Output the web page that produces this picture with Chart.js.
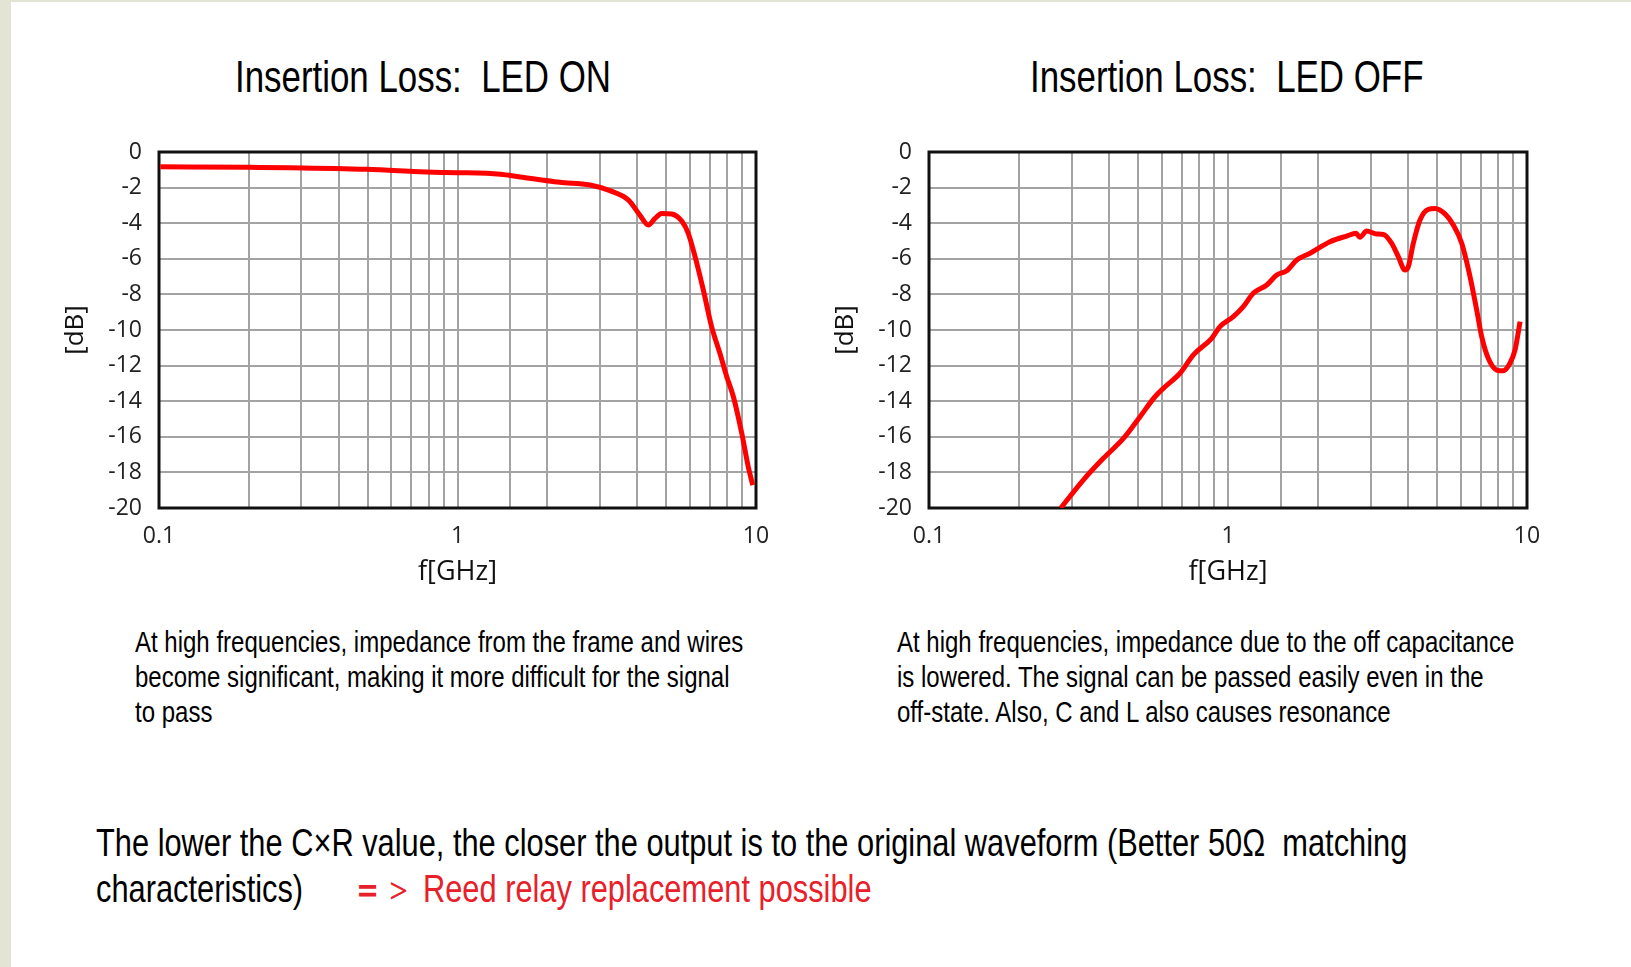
<!DOCTYPE html>
<html>
<head>
<meta charset="utf-8">
<title>Insertion Loss</title>
<script src="https://cdn.jsdelivr.net/npm/chart.js@4.4.1/dist/chart.umd.min.js"></script>
<style>
  body {
    margin: 0;
    width: 1631px;
    height: 967px;
    position: relative;
    overflow: hidden;
    background: #fff;
    font-family: "Liberation Sans", Arial, sans-serif;
    color: #000;
  }
  .strip-left { position: absolute; left: 0; top: 0; width: 11px; height: 967px; background: #e4e4d5; }
  .strip-top { position: absolute; left: 0; top: 0; width: 1631px; height: 2px; background: #e4e4d5; }
  .box { position: absolute; }
  .narrow {
    position: absolute;
    white-space: nowrap;
    transform: scaleX(0.8);
    transform-origin: 0 0;
  }
  .title { font-size: 45px; line-height: 45px; transform: scaleX(0.775); }
  .desc { font-size: 30px; line-height: 35px; }
  .note { font-size: 38.5px; line-height: 46px; }
  .red { color: #e8202a; }
  .eq { font-weight: bold; }
</style>
</head>
<body>
<div class="strip-left"></div>
<div class="strip-top"></div>

<div class="narrow title" style="left:235px; top:54px;">Insertion Loss:&nbsp; LED ON</div>
<div class="narrow title" style="left:1030px; top:54px;">Insertion Loss:&nbsp; LED OFF</div>

<div class="box" style="left:20px; top:130px; width:770px; height:459px;"><canvas id="ledOn"></canvas></div>
<div class="box" style="left:790px; top:130px; width:790px; height:459px;"><canvas id="ledOff"></canvas></div>

<div class="narrow desc" style="left:135px; top:624px;">At high frequencies, impedance from the frame and wires<br>become significant, making it more difficult for the signal<br>to pass</div>
<div class="narrow desc" style="left:897px; top:624px;">At high frequencies, impedance due to the off capacitance<br>is lowered. The signal can be passed easily even in the<br>off-state. Also, C and L also causes resonance</div>

<div class="narrow note" style="left:96px; top:820px;">The lower the C×R value, the closer the output is to the original waveform (Better 50Ω&nbsp; matching</div>
<div class="narrow note" style="left:96px; top:866px;">characteristics)</div>
<div class="narrow note red" style="left:352px; top:866px;"><span class="eq">＝</span>＞ Reed relay replacement possible</div>

<script>
// LED ON curve (GHz, dB)
const freqOn = [0.101, 0.2, 0.275, 0.496, 0.83, 1.0, 1.39, 1.62, 2.2, 2.78, 3.24, 3.74, 4.08, 4.36, 4.59, 4.83, 5.22, 5.64, 5.93, 6.25, 6.66, 7.10, 7.57, 7.98, 8.40, 8.96, 9.42, 9.75];
const lossOn = [-0.83, -0.86, -0.88, -0.97, -1.14, -1.16, -1.25, -1.40, -1.70, -1.85, -2.17, -2.70, -3.54, -4.10, -3.73, -3.45, -3.48, -3.88, -4.57, -5.88, -7.75, -9.81, -11.31, -12.62, -13.75, -15.80, -17.68, -18.71];

// LED OFF curve
const freqOff = [0.276, 0.328, 0.383, 0.447, 0.508, 0.570, 0.616, 0.691, 0.766, 0.882, 0.940, 1.042, 1.125, 1.215, 1.348, 1.455, 1.571, 1.698, 1.881, 2.193, 2.495, 2.68, 2.763, 2.91, 3.143, 3.307, 3.528, 3.712, 3.908, 4.009, 4.166, 4.386, 4.677, 4.924, 5.318, 5.669, 6.048, 6.448, 6.788, 7.054, 7.42, 7.92, 8.33, 8.77, 9.12, 9.48];
const lossOff = [-20, -18.43, -17.21, -16.09, -14.87, -13.75, -13.19, -12.43, -11.40, -10.47, -9.81, -9.25, -8.69, -7.94, -7.47, -6.91, -6.67, -6.07, -5.69, -5.04, -4.72, -4.57, -4.79, -4.44, -4.61, -4.63, -5.13, -5.88, -6.63, -6.44, -5.13, -3.82, -3.22, -3.18, -3.48, -4.10, -5.13, -7.0, -8.88, -10.37, -11.59, -12.25, -12.29, -11.87, -11.12, -9.53];

// axis ticks
const xTickLabels = [0.1, 1, 10];
const yMin = -20, yMax = 0, yStep = 2;

// black frame round the plot area
const framePlugin = {
  id: 'frame',
  beforeDatasetsDraw(chart) {
    const { ctx, chartArea: a } = chart;
    ctx.save();
    ctx.strokeStyle = '#111';
    ctx.lineWidth = 3;
    ctx.strokeRect(a.left, a.top, a.right - a.left, a.bottom - a.top);
    ctx.restore();
  }
};

function makeChart(id, freq, loss, padRight) {
  const points = freq.map((f, i) => ({ x: f, y: loss[i] }));
  return new Chart(document.getElementById(id), {
    type: 'line',
    data: {
      datasets: [{
        data: points,
        borderColor: '#ff0000',
        borderWidth: 5,
        pointRadius: 0,
        cubicInterpolationMode: 'monotone',
        fill: false
      }]
    },
    options: {
      responsive: true,
      maintainAspectRatio: false,
      animation: false,
      layout: { padding: { top: 22, right: padRight, left: 0, bottom: 0 } },
      plugins: {
        legend: { display: false },
        tooltip: { enabled: false }
      },
      scales: {
        x: {
          type: 'logarithmic',
          min: 0.1,
          max: 10,
          border: { display: false },
          grid: { color: '#a3a3a3', lineWidth: 2, drawTicks: false },
          ticks: {
            autoSkip: false,
            maxRotation: 0,
            padding: 15,
            color: '#222',
            font: { family: 'Open Sans', size: 23 },
            callback: (v) => xTickLabels.some(t => Math.abs(t - v) < 1e-9) ? String(v) : ''
          },
          title: {
            display: true,
            text: 'f[GHz]',
            color: '#111',
            font: { family: 'Open Sans', size: 27 },
            padding: { top: 0, bottom: 0 }
          },
          afterFit: (s) => { s.height = 81; s.paddingLeft = 0; s.paddingRight = 0; }
        },
        y: {
          min: yMin,
          max: yMax,
          border: { display: false },
          grid: { color: '#a3a3a3', lineWidth: 2, drawTicks: false },
          ticks: {
            stepSize: yStep,
            padding: 17,
            color: '#222',
            font: { family: 'Open Sans', size: 23 }
          },
          title: {
            display: true,
            text: '[dB]',
            color: '#111',
            font: { family: 'Open Sans', size: 26 },
            padding: { top: 40, bottom: 0 }
          },
          afterFit: (s) => { s.width = 139; s.paddingTop = 0; s.paddingBottom = 0; }
        }
      }
    },
    plugins: [framePlugin]
  });
}

const onChart = makeChart('ledOn', freqOn, lossOn, 34);
const offChart = makeChart('ledOff', freqOff, lossOff, 53);
</script>
</body>
</html>
